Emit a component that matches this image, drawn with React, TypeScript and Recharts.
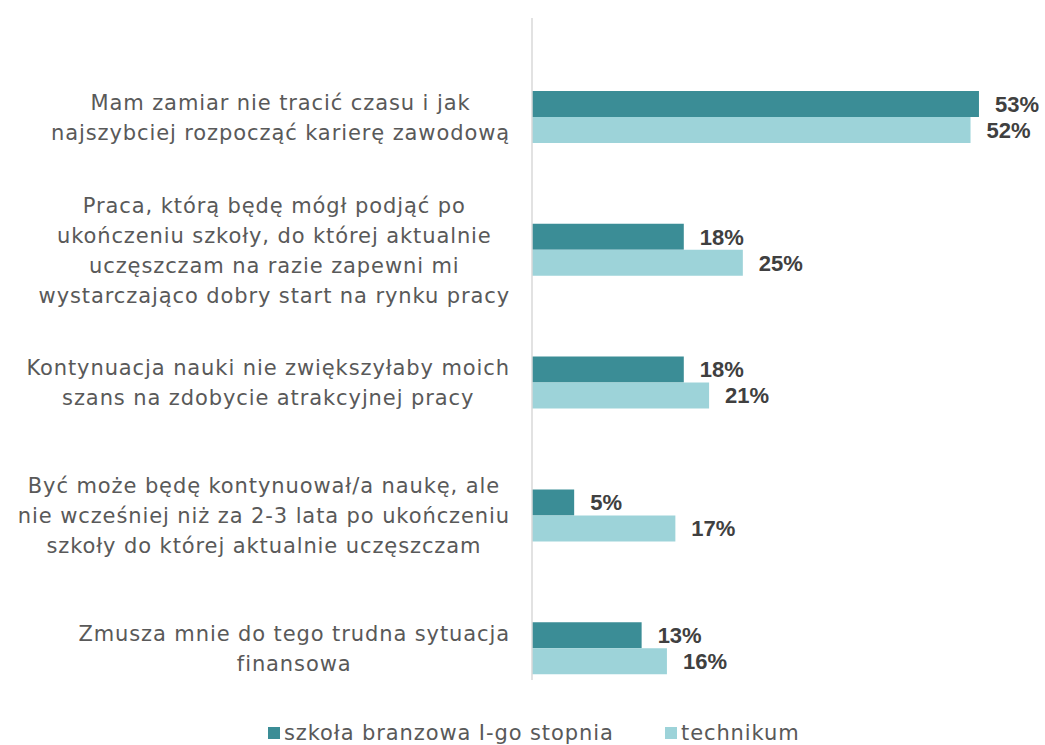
import React from 'react';
import { BarChart, Bar, XAxis, YAxis, LabelList, Legend } from 'recharts';

const categories = [
  'Mam zamiar nie tracić czasu i jak\nnajszybciej rozpocząć karierę zawodową',
  'Praca, którą będę mógł podjąć po\nukończeniu szkoły, do której aktualnie\nuczęszczam na razie zapewni mi\nwystarczająco dobry start na rynku pracy',
  'Kontynuacja nauki nie zwiększyłaby moich\nszans na zdobycie atrakcyjnej pracy',
  'Być może będę kontynuował/a naukę, ale\nnie wcześniej niż za 2-3 lata po ukończeniu\nszkoły do której aktualnie uczęszczam',
  'Zmusza mnie do tego trudna sytuacja\nfinansowa',
];
const seriesNames = ['szkoła branzowa I-go stopnia', 'technikum'];
const branzowa = [53, 18, 18, 5, 13];
const technikum = [52, 25, 21, 17, 16];
const colors = ['#3B8D96', '#9DD3D9'];

const data = categories.map((name, i) => ({ name, branzowa: branzowa[i], technikum: technikum[i] }));

const LABEL_FONT = '"DejaVu Sans", sans-serif';
const LABEL_SIZE = 21;
const LETTER_SP = 0.9;
const LINE_H = 30;
const RIGHT_EDGE = 510;

let ctx: CanvasRenderingContext2D | null = null;
function measure(t: string): number {
  if (typeof document === 'undefined') return t.length * 12;
  if (!ctx) ctx = document.createElement('canvas').getContext('2d');
  if (!ctx) return t.length * 12;
  ctx.font = `${LABEL_SIZE}px "DejaVu Sans"`;
  return ctx.measureText(t).width + LETTER_SP * t.length;
}

function CategoryTick(props: any) {
  const { y, payload } = props;
  const lines: string[] = String(payload.value).split('\n');
  const maxW = Math.max(...lines.map(measure));
  const cx = RIGHT_EDGE - maxW / 2;
  const startY = y - ((lines.length - 1) * LINE_H) / 2;
  return (
    <text
      textAnchor="middle"
      fill="#595959"
      style={{ fontFamily: LABEL_FONT, fontSize: LABEL_SIZE, letterSpacing: LETTER_SP }}
    >
      {lines.map((l, i) => (
        <tspan key={i} x={cx} y={startY + i * LINE_H} dy="0.35em">
          {l}
        </tspan>
      ))}
    </text>
  );
}

const legendWidths = [397, 200];

function LegendContent() {
  return (
    <div style={{ display: 'flex', alignItems: 'center', paddingLeft: 268, height: 26 }}>
      {seriesNames.map((n, i) => (
        <div key={n} style={{ display: 'flex', alignItems: 'center', width: legendWidths[i] }}>
          <div style={{ width: 12, height: 12, background: colors[i], marginRight: 4 }} />
          <span
            style={{
              fontFamily: LABEL_FONT,
              fontSize: LABEL_SIZE,
              letterSpacing: LETTER_SP,
              color: '#595959',
              lineHeight: '26px',
              whiteSpace: 'nowrap',
            }}
          >
            {n}
          </span>
        </div>
      ))}
    </div>
  );
}

const fmt = (v: any) => `${v}%`;
const valueStyle = {
  fontFamily: '"Liberation Sans", Arial, sans-serif',
  fontWeight: 'bold' as const,
  fontSize: 22,
  fill: '#404040',
};

export default function App() {
  return (
    <div style={{ position: 'absolute', left: 0, top: 0, width: 1045, height: 745, background: '#fff' }}>
      <BarChart
        width={1045}
        height={745}
        data={data}
        layout="vertical"
        margin={{ top: 18, right: 7, bottom: 65, left: 0 }}
        barGap={0}
        barSize={26}
      >
        <XAxis type="number" domain={[0, 60]} hide />
        <YAxis
          type="category"
          dataKey="name"
          width={532}
          axisLine={{ stroke: '#D9D9D9', strokeWidth: 1.5 }}
          tickLine={false}
          tick={<CategoryTick />}
          padding={{ top: 33, bottom: -35 }}
          interval={0}
        />
        <Legend
          verticalAlign="middle"
          align="center"
          content={<LegendContent />}
          wrapperStyle={{ top: 720, left: 0, width: 1045 }}
        />
        <Bar dataKey="branzowa" name={seriesNames[0]} fill={colors[0]} isAnimationActive={false}>
          <LabelList dataKey="branzowa" position="right" offset={16} formatter={fmt} style={valueStyle} />
        </Bar>
        <Bar dataKey="technikum" name={seriesNames[1]} fill={colors[1]} isAnimationActive={false}>
          <LabelList dataKey="technikum" position="right" offset={16} formatter={fmt} style={valueStyle} />
        </Bar>
      </BarChart>
    </div>
  );
}
